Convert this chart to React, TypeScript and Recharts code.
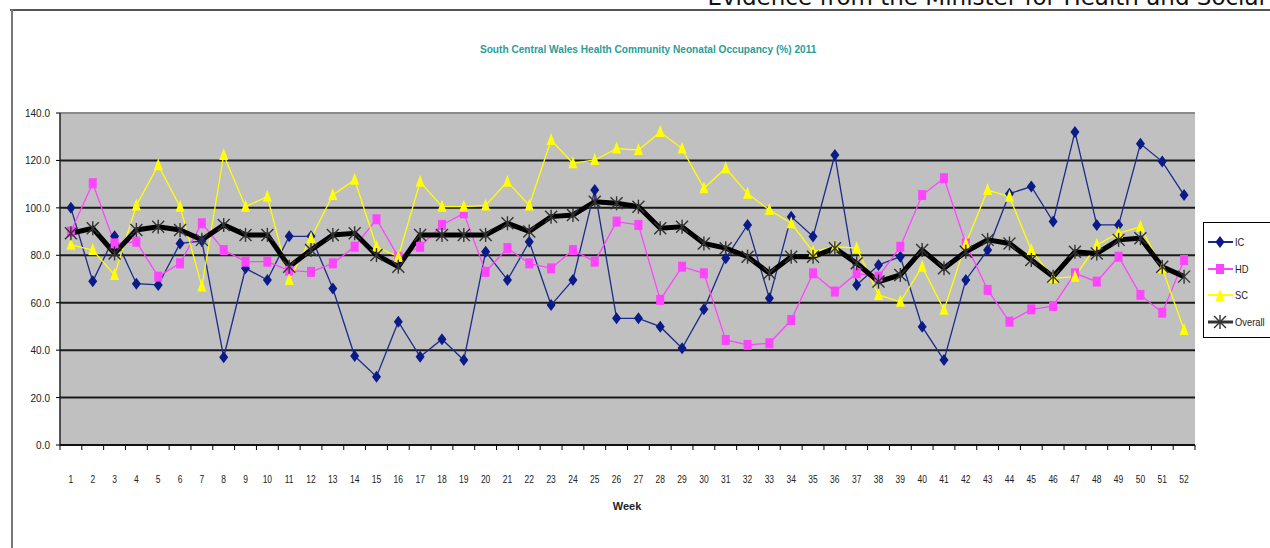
import React from 'react';
import { LineChart, Line, XAxis, YAxis, CartesianGrid, ReferenceLine } from 'recharts';

const weeks = Array.from({ length: 52 }, (_, i) => i + 1);

const icValues = [100, 69, 88, 68, 67.5, 85, 86, 37, 74.5, 69.6, 88, 88, 66, 37.5, 28.8, 52, 37.2, 44.6, 35.8, 81.5, 69.6, 85.7, 59, 69.6, 107.5, 53.4, 53.4, 49.9, 40.8, 57.2, 78.7, 92.8, 61.9, 96.3, 87.9, 122.3, 67.5, 75.9, 79.4, 49.9, 35.8, 69.6, 82.2, 106, 109, 94.2, 132, 92.8, 92.8, 127, 119.5, 105.4];
const hdValues = [90, 110.4, 85, 85.7, 71, 76.6, 93.5, 82.2, 77.3, 77.3, 73.5, 73, 76.6, 83.6, 95.2, 79.4, 83.6, 92.8, 97.7, 73, 83, 76.6, 74.5, 82.2, 77.3, 94.2, 92.8, 61.2, 75.2, 72.4, 44.3, 42.2, 42.9, 52.7, 72.4, 64.7, 72.4, 71, 83.6, 105.4, 112.5, 85, 65.4, 52, 57.2, 58.6, 72.4, 68.9, 79.4, 63.3, 55.8, 78];
const scValues = [84.4, 82.2, 71.7, 101, 118, 100.5, 66.8, 122.3, 100.5, 104.7, 69.6, 87.2, 105.4, 111.8, 83.6, 79.4, 111, 100.5, 100.5, 101, 111, 101, 128.6, 118.8, 120.2, 125, 124.4, 132, 125, 108.3, 116.7, 106, 99.1, 93.5, 81.5, 83.6, 83, 63.3, 60.4, 75.2, 57, 85, 107.5, 104.7, 82.2, 70.3, 71, 84.4, 89.3, 92, 74.5, 48.5];
const overallValues = [89.3, 91.4, 80.8, 90.7, 92, 90.7, 86.5, 92.8, 88.6, 88.6, 75.2, 82.2, 88.6, 89.3, 80.1, 75.2, 88.6, 88.6, 88.6, 88.6, 93.5, 90, 96.3, 97, 102.6, 101.9, 100.5, 91.4, 92, 85, 83, 79.4, 72.4, 79.4, 79.4, 83, 76.6, 68.9, 71.7, 82.2, 74.5, 81.5, 86.5, 85, 78, 71, 81.5, 80.8, 86.5, 87.2, 75.2, 71];

const yTicks = [0, 20, 40, 60, 80, 100, 120, 140];
const gridValues = [20, 40, 60, 80, 100, 120];

const titleText = 'South Central Wales Health Community Neonatal Occupancy (%) 2011';
const headerText = 'Evidence from the Minister for Health and Social';
const xAxisLabel = 'Week';

const seriesNames = ['IC', 'HD', 'SC', 'Overall'];

const data = weeks.map((w, i) => ({
  week: w,
  IC: icValues[i],
  HD: hdValues[i],
  SC: scValues[i],
  Overall: overallValues[i],
}));

const NARROW = '"Liberation Sans Narrow", "Arial Narrow", "Liberation Sans", Arial, sans-serif';

const IC_COLOR = '#1c2a8c';
const IC_MARK = '#0a1a88';
const HD_COLOR = '#ff44ff';
const SC_COLOR = '#ffff00';

const PLOT_LEFT = 60;
const PLOT_RIGHT = 1195;
const STEP = (PLOT_RIGHT - PLOT_LEFT) / 52;

const Diamond = (props: any) => {
  const { cx, cy } = props;
  if (cx == null || cy == null) return null;
  return <polygon points={`${cx},${cy - 6} ${cx + 4.5},${cy} ${cx},${cy + 6} ${cx - 4.5},${cy}`} fill={IC_MARK} />;
};
const Square = (props: any) => {
  const { cx, cy } = props;
  if (cx == null || cy == null) return null;
  return <rect x={cx - 4} y={cy - 5} width={8} height={10} fill={HD_COLOR} />;
};
const Triangle = (props: any) => {
  const { cx, cy } = props;
  if (cx == null || cy == null) return null;
  return <polygon points={`${cx},${cy - 7} ${cx + 4.5},${cy + 5} ${cx - 4.5},${cy + 5}`} fill={SC_COLOR} />;
};
const Star = (props: any) => {
  const { cx, cy } = props;
  if (cx == null || cy == null) return null;
  const s = 6;
  return (
    <g stroke="#333" strokeWidth={1.4}>
      <line x1={cx - s} y1={cy - s} x2={cx + s} y2={cy + s} />
      <line x1={cx - s} y1={cy + s} x2={cx + s} y2={cy - s} />
      <line x1={cx} y1={cy - s - 1} x2={cx} y2={cy + s + 1} />
    </g>
  );
};

const XTick = (props: any) => {
  const { x, y, payload, index } = props;
  return (
    <g>
      <line x1={x - STEP / 2} y1={y - 8} x2={x - STEP / 2} y2={y - 3} stroke="#000" strokeWidth={1} />
      {index === 51 && <line x1={x + STEP / 2} y1={y - 8} x2={x + STEP / 2} y2={y - 3} stroke="#000" strokeWidth={1} />}
      <text x={x} y={y + 30} textAnchor="middle" fontSize={10} fill="#222" fontFamily={NARROW} transform={`translate(${x * 0.15},0) scale(0.85,1)`}>
        {payload.value}
      </text>
    </g>
  );
};

const YTick = (props: any) => {
  const { x, y, payload } = props;
  return (
    <text x={x - 4} y={y + 4} textAnchor="end" fontSize={10} fill="#222" fontFamily={NARROW}>
      {Number(payload.value).toFixed(1)}
    </text>
  );
};

const LegendBox = () => {
  const rows = [
    { name: seriesNames[0], color: IC_COLOR, mark: <Diamond cx={13} cy={9} /> },
    { name: seriesNames[1], color: HD_COLOR, mark: <Square cx={13} cy={9} /> },
    { name: seriesNames[2], color: SC_COLOR, mark: <Triangle cx={13} cy={10} /> },
    { name: seriesNames[3], color: '#333', mark: <Star cx={13} cy={9} /> },
  ];
  return (
    <div style={{ border: '1px solid #000', background: '#fff', width: 70, height: 116, boxSizing: 'border-box', paddingTop: 6, paddingLeft: 3 }}>
      {rows.map((r) => (
        <div key={r.name} style={{ display: 'flex', alignItems: 'center', height: 26.5 }}>
          <svg width={28} height={18}>
            <line x1={1} y1={9} x2={26} y2={9} stroke={r.color} strokeWidth={r.name === 'Overall' ? 3 : 2} />
            {r.mark}
          </svg>
          <span style={{ fontFamily: NARROW, fontSize: 11, color: '#222', display: 'inline-block', transform: 'scaleX(0.85)', transformOrigin: 'left center' }}>{r.name}</span>
        </div>
      ))}
    </div>
  );
};

export default function App() {
  return (
    <div style={{ position: 'absolute', left: 0, top: 0, width: 1270, height: 548, background: '#fff', overflow: 'hidden' }}>
      <div style={{ position: 'absolute', left: 10, top: 9, width: 1270, height: 2, background: '#555' }} />
      <div style={{ position: 'absolute', left: 11, top: 9, width: 2, height: 560, background: '#777' }} />
      <div style={{ position: 'absolute', right: 5, top: -16, fontFamily: '"DejaVu Sans", sans-serif', fontSize: 23, color: '#111', whiteSpace: 'nowrap' }}>
        {headerText}
      </div>
      <div style={{ position: 'absolute', left: 0, width: 1296, top: 39, textAlign: 'center' }}>
        <span style={{ display: 'inline-block', fontFamily: NARROW, fontWeight: 'bold', fontSize: 11.5, color: '#2a9d98', transform: 'scaleX(0.88)' }}>
          {titleText}
        </span>
      </div>
      <div style={{ position: 'absolute', left: 0, top: 0 }}>
        <LineChart width={1270} height={548} data={data} margin={{ top: 113, right: 75, bottom: 63, left: 10 }}>
          <CartesianGrid horizontal vertical={false} horizontalValues={gridValues} fill="#c0c0c0" fillOpacity={1} stroke="#1a1a1a" strokeWidth={2} />
          <ReferenceLine y={140} stroke="#8a8a8a" strokeWidth={2} />
          <XAxis dataKey="week" type="category" interval={0} height={40} tick={<XTick />} tickLine={false} axisLine={{ stroke: '#111', strokeWidth: 2 }} padding={{ left: STEP / 2, right: STEP / 2 }} />
          <YAxis domain={[0, 140]} ticks={yTicks} width={50} tick={<YTick />} tickLine={{ stroke: '#000' }} tickSize={4} axisLine={{ stroke: '#222', strokeWidth: 1.5 }} interval={0} />
          <Line dataKey="IC" stroke={IC_COLOR} strokeWidth={1.3} dot={<Diamond />} activeDot={false} isAnimationActive={false} />
          <Line dataKey="HD" stroke={HD_COLOR} strokeWidth={1.3} dot={<Square />} activeDot={false} isAnimationActive={false} />
          <Line dataKey="SC" stroke={SC_COLOR} strokeWidth={1.3} dot={<Triangle />} activeDot={false} isAnimationActive={false} />
          <Line dataKey="Overall" stroke="#000" strokeWidth={5} dot={<Star />} activeDot={false} isAnimationActive={false} />
        </LineChart>
      </div>
      <div style={{ position: 'absolute', left: 1203, top: 222 }}>
        <LegendBox />
      </div>
      <div style={{ position: 'absolute', left: 0, width: 1254, top: 500, textAlign: 'center', fontFamily: NARROW, fontWeight: 'bold', fontSize: 11, color: '#222' }}>
        {xAxisLabel}
      </div>
    </div>
  );
}
